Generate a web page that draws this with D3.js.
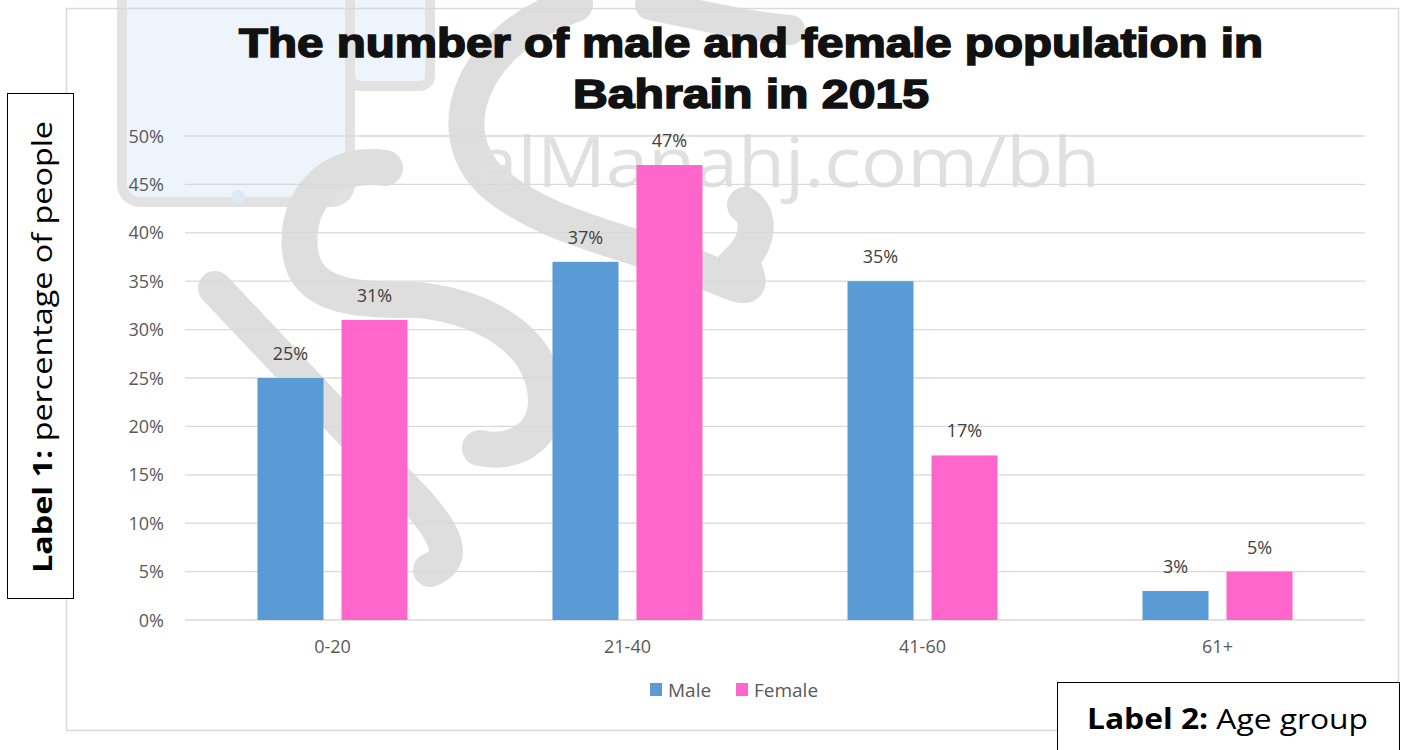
<!DOCTYPE html>
<html><head><meta charset="utf-8">
<script src="https://cdn.jsdelivr.net/npm/d3@7"></script>
<style>body{margin:0;background:#fff}svg{display:block}</style>
</head><body>
<svg id="c" width="1403" height="750"></svg>
<script>
const categories = ["0-20", "21-40", "41-60", "61+"];
const seriesNames = ["Male", "Female"];
const maleValues = [25, 37, 35, 3];
const femaleValues = [31, 47, 17, 5];
const yTicks = [0, 5, 10, 15, 20, 25, 30, 35, 40, 45, 50];
const titleLines = ["The number of male and female population in", "Bahrain in 2015"];
const colors = {Male: "#5B9BD5", Female: "#FF66CC"};

const svg = d3.select("#c");
const font = "'Open Sans', 'Noto Sans', sans-serif";

// watermark (decorative)
const wm = svg.append("g");
wm.append("rect").attr("x", 122).attr("y", -30).attr("width", 228).attr("height", 232).attr("rx", 18)
  .attr("fill", "#edf4fc").attr("stroke", "#e2e2e2").attr("stroke-width", 10);
wm.append("rect").attr("x", 350).attr("y", -30).attr("width", 80).attr("height", 116).attr("rx", 10)
  .attr("fill", "#edf4fc").attr("stroke", "#e2e2e2").attr("stroke-width", 10);
wm.append("circle").attr("cx", 238).attr("cy", 197).attr("r", 7).attr("fill", "#dde9f5");
const wmStroke = (d, w) => wm.append("path").attr("d", d).attr("stroke", "#dedede").attr("stroke-width", w)
  .attr("fill", "none").attr("stroke-linecap", "round");
wmStroke("M215,288 L420,505 C450,540 455,560 430,570", 34);
wmStroke("M385,168 C330,160 295,200 300,250 C305,300 360,300 420,300 C500,310 545,350 546,400 C546,440 510,455 480,448", 36);
wmStroke("M575,4 C470,40 440,130 490,180 C540,225 620,240 690,265 C740,285 760,300 740,260 C760,240 760,215 745,205", 36);
wmStroke("M650,5 C700,15 740,25 790,30", 30);
wm.append("text").attr("x", 475).attr("y", 187).attr("font-family", font).attr("font-size", 70)
  .attr("fill", "#e0e0e0").attr("textLength", 625).attr("lengthAdjust", "spacingAndGlyphs").text("alManahj.com/bh");

// chart border
svg.append("rect").attr("x", 66.5).attr("y", 8.5).attr("width", 1332).attr("height", 722)
  .attr("fill", "none").attr("stroke", "#d9d9d9").attr("stroke-width", 1.5);

const x = d3.scaleBand().domain(categories).range([185, 1365]);
const y = d3.scaleLinear().domain([0, 50]).range([620, 136]);
const sub = d3.scaleBand().domain(seriesNames).range([-75, 75]).paddingInner(0.214);

// gridlines
svg.append("g").selectAll("line").data(yTicks).join("line")
  .attr("x1", 185).attr("x2", 1365).attr("y1", d => y(d)).attr("y2", d => y(d))
  .attr("stroke", "#d9d9d9").attr("stroke-width", 1.3);

// y axis labels
const yAxis = d3.axisLeft(y).tickValues(yTicks).tickFormat(d => d + "%").tickSize(0).tickPadding(0);
const ya = svg.append("g").attr("transform", "translate(164,0)").call(yAxis);
ya.select(".domain").remove();
ya.selectAll("text").attr("font-family", font).attr("font-size", 18).attr("fill", "#595959").attr("dy", "0.34em");

// x axis labels
const xAxis = d3.axisBottom(x).tickSize(0).tickPadding(0);
const xa = svg.append("g").attr("transform", "translate(0,640)").call(xAxis);
xa.select(".domain").remove();
xa.selectAll("text").attr("font-family", font).attr("font-size", 18).attr("fill", "#595959").attr("dy", "0.72em");

// bars
const rows = categories.map((c, i) => ({cat: c, vals: [
  {s: "Male", v: maleValues[i]}, {s: "Female", v: femaleValues[i]}]}));
const grp = svg.append("g").selectAll("g").data(rows).join("g")
  .attr("transform", d => `translate(${x(d.cat) + x.bandwidth() / 2},0)`);
grp.selectAll("rect").data(d => d.vals).join("rect")
  .attr("x", d => sub(d.s)).attr("width", sub.bandwidth())
  .attr("y", d => y(d.v)).attr("height", d => y(0) - y(d.v))
  .attr("fill", d => colors[d.s]);
grp.selectAll("text").data(d => d.vals).join("text")
  .attr("x", d => sub(d.s) + sub.bandwidth() / 2).attr("y", d => y(d.v) - 18)
  .attr("text-anchor", "middle").attr("font-family", font).attr("font-size", 18).attr("fill", "#404040")
  .text(d => d.v + "%");

// legend
const lg = svg.append("g").attr("transform", "translate(650,683)");
const items = [{s: "Male", x: 0}, {s: "Female", x: 86}];
items.forEach(it => {
  lg.append("rect").attr("x", it.x).attr("y", 0).attr("width", 12).attr("height", 13).attr("fill", colors[it.s]);
  lg.append("text").attr("x", it.x + 18).attr("y", 14).attr("font-family", font).attr("font-size", 19)
    .attr("fill", "#595959").text(it.s);
});

// title
const tt = svg.append("text").attr("text-anchor", "middle").attr("font-family", "'Liberation Sans', Arial, sans-serif")
  .attr("font-weight", "bold").attr("font-size", 40).attr("fill", "#111")
  .attr("stroke", "#111").attr("stroke-width", 1.6).attr("paint-order", "stroke");
tt.append("tspan").attr("x", 751).attr("y", 57).attr("textLength", 1024).attr("lengthAdjust", "spacingAndGlyphs").text(titleLines[0]);
tt.append("tspan").attr("x", 751).attr("y", 108).attr("textLength", 356).attr("lengthAdjust", "spacingAndGlyphs").text(titleLines[1]);

// Label 1 box
svg.append("rect").attr("x", 7.5).attr("y", 93.5).attr("width", 66).attr("height", 505)
  .attr("fill", "#fff").attr("stroke", "#000").attr("stroke-width", 1);
const l1 = svg.append("text").attr("transform", "translate(52,347) rotate(-90)").attr("text-anchor", "middle")
  .attr("font-family", font).attr("font-size", 27).attr("fill", "#000")
  .attr("textLength", 452).attr("lengthAdjust", "spacingAndGlyphs");
l1.append("tspan").attr("font-weight", "bold").text("Label 1:");
l1.append("tspan").text(" percentage of people");

// Label 2 box
svg.append("rect").attr("x", 1057.5).attr("y", 682.5).attr("width", 342).attr("height", 80)
  .attr("fill", "#fff").attr("stroke", "#000").attr("stroke-width", 1);
const l2 = svg.append("text").attr("x", 1087).attr("y", 729)
  .attr("font-family", font).attr("font-size", 28).attr("fill", "#000")
  .attr("textLength", 281).attr("lengthAdjust", "spacingAndGlyphs");
l2.append("tspan").attr("font-weight", "bold").text("Label 2:");
l2.append("tspan").text(" Age group");
</script>
</body></html>
